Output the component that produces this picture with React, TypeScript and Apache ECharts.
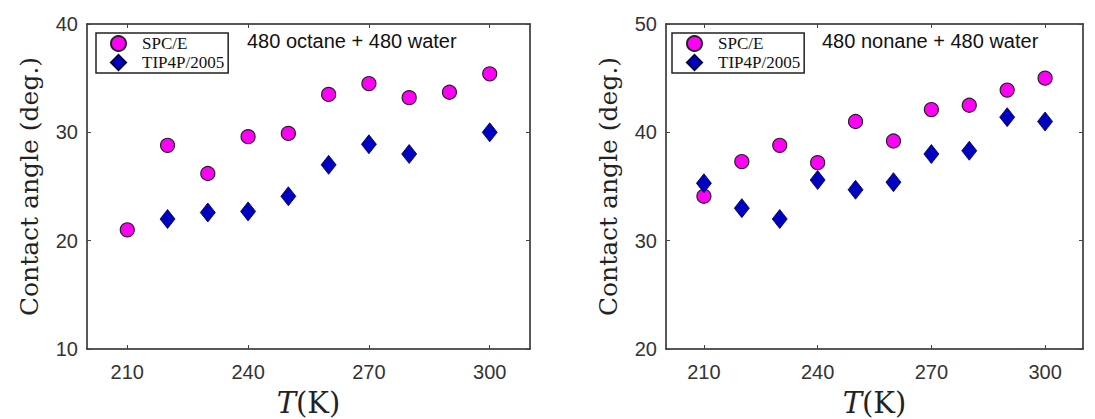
import React, { useEffect, useRef } from "react";
import * as echarts from "echarts";

const temperatures = [210, 220, 230, 240, 250, 260, 270, 280, 290, 300];
const octaneSPCE = [21.0, 28.8, 26.2, 29.6, 29.9, 33.5, 34.5, 33.2, 33.7, 35.4];
const octaneTIP4P = [null, 22.0, 22.6, 22.7, 24.1, 27.0, 28.9, 28.0, null, 30.0];
const nonaneSPCE = [34.1, 37.3, 38.8, 37.2, 41.0, 39.2, 42.1, 42.5, 43.9, 45.0];
const nonaneTIP4P = [35.3, 33.0, 32.0, 35.6, 34.7, 35.4, 38.0, 38.3, 41.4, 41.0];
const xTickValues = [210, 240, 270, 300];
const seriesNames = ["SPC/E", "TIP4P/2005"];
const panelTitles = ["480 octane + 480 water", "480 nonane + 480 water"];

const pairs = (ys: (number | null)[]) =>
  temperatures.map((t, i) => [t, ys[i]]).filter((p) => p[1] !== null);

export default function App() {
  const ref = useRef<HTMLDivElement>(null);
  useEffect(() => {
    if (!ref.current) return;
    const chart = echarts.init(ref.current, undefined, { renderer: "svg" });
    const grids = [
      { left: 87, top: 24, width: 443, height: 325 },
      { left: 666, top: 24, width: 417, height: 325 },
    ];
    const yRanges = [
      [10, 40],
      [20, 50],
    ];
    const tickLabel = { fontFamily: "Liberation Sans", fontSize: 20, color: "#333" };
    const xAxes: any[] = [];
    const yAxes: any[] = [];
    grids.forEach((_, g) => {
      xAxes.push({
        type: "value",
        gridIndex: g,
        min: 200,
        max: 310,
        position: "bottom",
        axisLine: { show: true, lineStyle: { color: "#222", width: 1.5 } },
        axisTick: { show: true, inside: true, length: 4, customValues: xTickValues, lineStyle: { color: "#444" } },
        axisLabel: { customValues: xTickValues, margin: 13, ...tickLabel },
        splitLine: { show: false },
        name: "{i|T}(K)",
        nameLocation: "middle",
        nameGap: 39,
        nameTextStyle: {
          fontFamily: "DejaVu Serif",
          fontSize: 29,
          color: "#222",
          rich: { i: { fontFamily: "DejaVu Serif", fontStyle: "italic", fontSize: 29, color: "#222" } },
        },
      });
      xAxes.push({
        type: "value",
        gridIndex: g,
        min: 200,
        max: 310,
        position: "top",
        axisLine: { show: true, lineStyle: { color: "#222", width: 1.5 } },
        axisTick: { show: true, inside: true, length: 4, customValues: xTickValues, lineStyle: { color: "#444" } },
        axisLabel: { show: false },
        splitLine: { show: false },
      });
      yAxes.push({
        type: "value",
        gridIndex: g,
        min: yRanges[g][0],
        max: yRanges[g][1],
        interval: 10,
        position: "left",
        axisLine: { show: true, lineStyle: { color: "#222", width: 1.5 } },
        axisTick: { show: true, inside: true, length: 4, lineStyle: { color: "#444" } },
        axisLabel: { margin: 9, ...tickLabel },
        splitLine: { show: false },
        name: "Contact angle (deg.)",
        nameLocation: "middle",
        nameGap: 45,
        nameTextStyle: { fontFamily: "DejaVu Serif", fontSize: 25, color: "#222" },
      });
      yAxes.push({
        type: "value",
        gridIndex: g,
        min: yRanges[g][0],
        max: yRanges[g][1],
        interval: 10,
        position: "right",
        axisLine: { show: true, lineStyle: { color: "#222", width: 1.5 } },
        axisTick: { show: true, inside: true, length: 4, lineStyle: { color: "#444" } },
        axisLabel: { show: false },
        splitLine: { show: false },
      });
    });
    const circleStyle = { color: "#ff00f6", borderColor: "#222", borderWidth: 1.2, opacity: 1 };
    const diamondStyle = { color: "#0000c0", borderColor: "#00004a", borderWidth: 0.8, opacity: 1 };
    const series: any[] = [
      { name: seriesNames[0], type: "scatter", xAxisIndex: 0, yAxisIndex: 0, symbol: "circle", symbolSize: 14, itemStyle: circleStyle, data: pairs(octaneSPCE) },
      { name: seriesNames[1], type: "scatter", xAxisIndex: 0, yAxisIndex: 0, symbol: "diamond", symbolSize: [15, 19], itemStyle: diamondStyle, data: pairs(octaneTIP4P) },
      { name: seriesNames[0], type: "scatter", xAxisIndex: 2, yAxisIndex: 2, symbol: "circle", symbolSize: 14, itemStyle: circleStyle, data: pairs(nonaneSPCE) },
      { name: seriesNames[1], type: "scatter", xAxisIndex: 2, yAxisIndex: 2, symbol: "diamond", symbolSize: [15, 19], itemStyle: diamondStyle, data: pairs(nonaneTIP4P) },
    ];
    const legendCommon = {
      orient: "vertical",
      top: 33,
      borderColor: "#222",
      borderWidth: 1.5,
      padding: [2, 4, 2, 14],
      itemGap: 2,
      itemWidth: 15,
      itemHeight: 15,
      selectedMode: false,
      formatter: (name: string) => "{s|}" + name,
      textStyle: {
        fontFamily: "Liberation Serif",
        fontSize: 17,
        color: "#111",
        rich: { s: { width: 11, height: 10 } },
      },
      data: seriesNames,
    };
    chart.setOption({
      animation: false,
      backgroundColor: "#fff",
      grid: grids.map((g) => ({ ...g, containLabel: false, outerBoundsMode: "none" })),
      xAxis: xAxes,
      yAxis: yAxes,
      legend: [
        { ...legendCommon, left: 96 },
        { ...legendCommon, left: 672 },
      ],
      graphic: [
        { type: "text", left: 247, top: 31, style: { text: panelTitles[0], font: "20px 'Liberation Sans'", fill: "#111" } },
        { type: "text", left: 822, top: 31, style: { text: panelTitles[1], font: "20px 'Liberation Sans'", fill: "#111" } },
      ],
      series,
    });
    return () => chart.dispose();
  }, []);
  return <div ref={ref} style={{ position: "fixed", left: 0, top: 0, width: 1095, height: 419 }} />;
}
